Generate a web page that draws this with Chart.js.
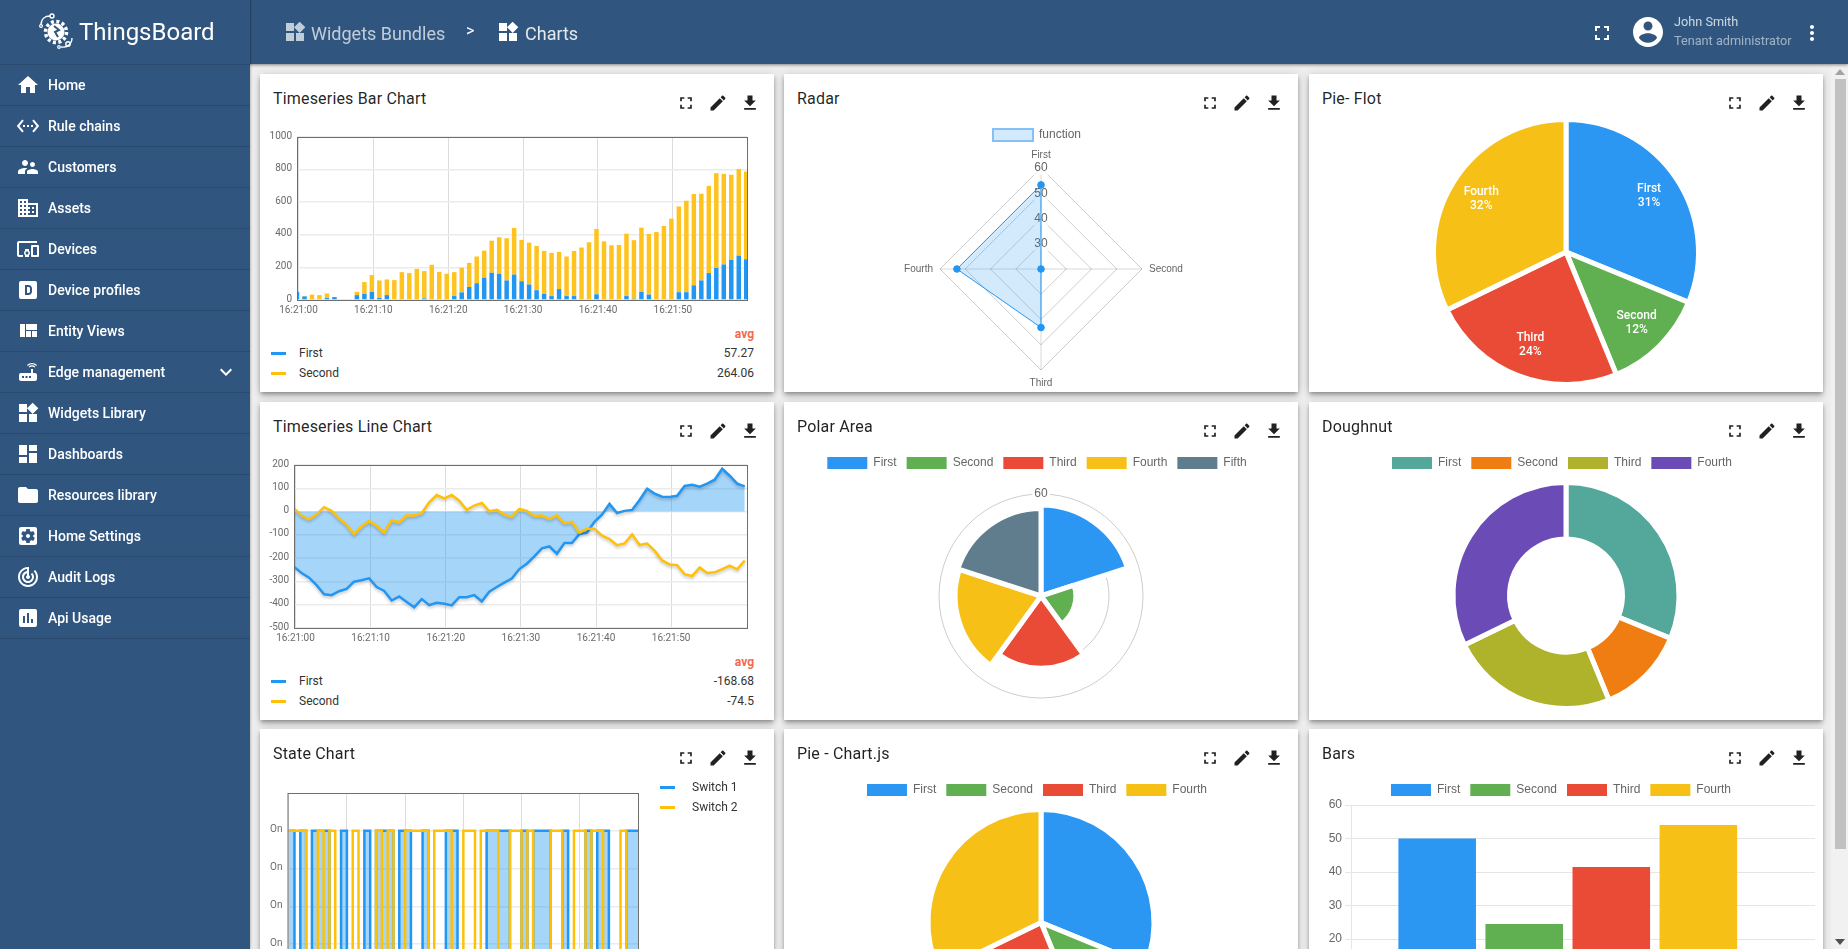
<!DOCTYPE html>
<html>
<head>
<meta charset="utf-8">
<title>Charts</title>
<script src="https://cdn.jsdelivr.net/npm/chart.js@4"></script>
<style>
html, body { margin: 0; padding: 0; width: 1848px; height: 949px; overflow: hidden; background: #eeeeee; font-family: Roboto, sans-serif; }
#page { position: relative; width: 1848px; height: 949px; overflow: hidden; }
.abs { position: absolute; white-space: nowrap; }
#topbar { position: absolute; left: 0; top: 0; width: 1848px; height: 64px; background: #305680; box-shadow: 0 1px 3px rgba(0,0,0,.45); z-index: 5; }
#sidebar { position: absolute; left: 0; top: 0; width: 250px; height: 949px; background: #305680; z-index: 6; box-shadow: 1px 0 2px rgba(0,0,0,.2); }
.row { position: absolute; left: 0; width: 250px; height: 41px; border-bottom: 1px solid rgba(0,0,0,.14); box-sizing: border-box; color: #fff; font-size: 14px; font-weight: 500; line-height: 40px; }
.row span { position: absolute; left: 48px; }
.row svg { position: absolute; left: 16px; top: 8px; }
.card { position: absolute; width: 514px; height: 318px; background: #fff; box-shadow: 0 2px 4px -1px rgba(0,0,0,.3), 0 4px 5px 0 rgba(0,0,0,.16), 0 1px 10px 0 rgba(0,0,0,.12); }
.title { position: absolute; font-size: 16px; line-height: 20px; letter-spacing: .18px; color: rgba(0,0,0,.87); white-space: nowrap; }
canvas { position: absolute; }
.lg { position: absolute; font-size: 12px; line-height: 16px; color: #333; white-space: nowrap; }
.sw { position: absolute; width: 15px; height: 3px; }
#track { position: absolute; left: 1831px; top: 64px; width: 17px; height: 885px; background: #f1f1f1; z-index: 3; }
#thumb { position: absolute; left: 1835px; top: 79px; width: 11px; height: 770px; background: #c1c1c1; z-index: 4; }
</style>
</head>
<body>
<div id="page"></div>
<script>
// timeseries bar chart
const barFirst = [50, 22, 0, 0, 12, 18, 0, 0, 30, 38, 50, 13, 30, 0, 0, 0, 0, 10, 0, 0, 0, 24, 47, 80, 103, 137, 167, 161, 120, 156, 115, 95, 60, 38, 24, 67, 24, 24, 0, 0, 35, 0, 0, 0, 24, 8, 50, 33, 0, 0, 0, 48, 48, 90, 120, 165, 197, 218, 247, 272, 250];
const barSecond = [0, 3, 33, 30, 28, 0, 0, 0, 20, 72, 103, 107, 96, 122, 171, 165, 191, 167, 216, 173, 161, 147, 151, 148, 164, 166, 197, 224, 259, 286, 254, 257, 272, 263, 265, 228, 243, 277, 322, 354, 401, 360, 336, 338, 383, 359, 394, 372, 417, 454, 499, 526, 561, 560, 532, 535, 581, 556, 521, 532, 538];

// timeseries line chart
const lineFirst = [-238, -264, -284, -316, -355, -359, -342, -332, -301, -295, -287, -324, -341, -382, -365, -388, -411, -376, -402, -392, -396, -403, -368, -368, -359, -386, -344, -324, -305, -288, -247, -224, -192, -158, -150, -181, -135, -135, -96, -90, -44, -13, 33, -6, 3, 7, 50, 98, 77, 64, 63, 68, 110, 115, 107, 120, 137, 184, 154, 120, 108];
const lineSecond = [14, -17, -33, -13, 19, 3, -30, -56, -98, -64, -41, -61, -90, -38, -46, -17, -17, -7, 40, 71, 57, 71, 47, 7, 26, 37, 1, 7, -13, -23, 11, 3, -19, -17, -31, -16, -50, -44, -90, -74, -74, -103, -118, -144, -137, -98, -143, -137, -168, -210, -227, -230, -269, -277, -240, -264, -261, -247, -232, -248, -210];

// state chart, one value per second
const switchOne = [1, 0, 1, 0, 1, 1, 1, 0, 0, 1, 0, 0, 0, 1, 0, 1, 1, 1, 0, 1, 1, 0, 0, 1, 0, 0, 0, 1, 1, 0, 0, 0, 0, 0, 1, 1, 1, 1, 0, 0, 1, 0, 1, 1, 1, 0, 0, 1, 0, 0, 0, 1, 0, 1, 1, 0, 0, 0, 1, 1, 1];
const switchTwo = [1, 1, 1, 0, 0, 1, 0, 1, 0, 0, 0, 1, 0, 0, 0, 1, 0, 1, 0, 0, 1, 1, 1, 1, 0, 1, 1, 1, 0, 0, 1, 1, 0, 1, 1, 1, 0, 0, 1, 1, 0, 1, 0, 0, 0, 1, 1, 0, 0, 1, 1, 0, 1, 1, 0, 0, 0, 1, 0, 0, 0];

const timeLabels = ['16:21:00', '16:21:10', '16:21:20', '16:21:30', '16:21:40', '16:21:50'];

const fourLabels = ['First', 'Second', 'Third', 'Fourth'];
const fiveLabels = ['First', 'Second', 'Third', 'Fourth', 'Fifth'];
const radarValues = [53.3, 20, 43.2, 53.3];
const flotValues = [31.2, 12.6, 24, 32.2];
const flotPercents = ['31%', '12%', '24%', '32%'];
const polarValues = [53.5, 20.5, 42.5, 50.5, 51.5];
const doughnutValues = [31.2, 12.6, 24, 32.2];
const pieValues = [31.2, 12.6, 24, 32.2];
const barsValues = [50, 24.5, 41.5, 54];
const barsPositions = [1, 2, 3, 4];

const BLUE = '#2b97f3', GREEN = '#60b052', RED = '#ea4b36', AMBER = '#f6c016', SLATE = '#5f7d8c';
const pieColors = [BLUE, GREEN, RED, AMBER];
const polarColors = [BLUE, GREEN, RED, AMBER, SLATE];
const doughnutColors = ['#53a79b', '#ef7d12', '#afb22b', '#6b4bb5'];

const ICONS = {
  fullscreen: 'M7 14H5v5h5v-2H7v-3zm-2-4h2V7h3V5H5v5zm12 7h-3v2h5v-5h-2v3zM14 5v2h3v3h2V5h-5z',
  edit: 'M3 17.25V21h3.75L17.81 9.94l-3.75-3.75L3 17.25zM20.71 7.04c.39-.39.39-1.02 0-1.41l-2.34-2.34c-.39-.39-1.02-.39-1.41 0l-1.83 1.83 3.75 3.75 1.83-1.83z',
  download: 'M19 9h-4V3H9v6H5l7 7 7-7zM5 18v2h14v-2H5z',
  home: 'M10 20v-6h4v6h5v-8h3L12 3 2 12h3v8z',
  rule: 'M7.77 6.76L6.23 5.48.82 12l5.41 6.52 1.54-1.28L3.42 12l4.35-5.24zM7 13h2v-2H7v2zm10-2h-2v2h2v-2zm-6 2h2v-2h-2v2zm6.77-7.52l-1.54 1.28L20.58 12l-4.35 5.24 1.54 1.28L23.18 12l-5.41-6.52z',
  people: 'M16.5 12c1.38 0 2.49-1.12 2.49-2.5S17.88 7 16.5 7C15.12 7 14 8.12 14 9.5s1.12 2.5 2.5 2.5zM9 11c1.66 0 2.99-1.34 2.99-3S10.66 5 9 5C7.34 5 6 6.34 6 8s1.34 3 3 3zm7.5 3c-1.83 0-5.5.92-5.5 2.75V19h11v-2.25c0-1.83-3.67-2.75-5.5-2.75zM9 13c-2.33 0-7 1.17-7 3.5V19h7v-2.25c0-.85.33-2.34 2.37-3.47C10.5 13.1 9.66 13 9 13z',
  domain: 'M12 7V3H2v18h20V7H12zM6 19H4v-2h2v2zm0-4H4v-2h2v2zm0-4H4V9h2v2zm0-4H4V5h2v2zm4 12H8v-2h2v2zm0-4H8v-2h2v2zm0-4H8V9h2v2zm0-4H8V5h2v2zm10 12h-8v-2h2v-2h-2v-2h2v-2h-2V9h8v10zm-2-8h-2v2h2v-2zm0 4h-2v2h2v-2z',
  devices: 'M3 6h18V4H3c-1.1 0-2 .9-2 2v12c0 1.1.9 2 2 2h4v-2H3V6zm10 6H9v1.78c-.61.55-1 1.33-1 2.22s.39 1.67 1 2.22V20h4v-1.78c.61-.55 1-1.34 1-2.22s-.39-1.67-1-2.22V12zm-2 5.5c-.83 0-1.5-.67-1.5-1.5s.67-1.5 1.5-1.5 1.5.67 1.5 1.5-.67 1.5-1.5 1.5zM22 8h-6c-.5 0-1 .5-1 1v10c0 .5.5 1 1 1h6c.5 0 1-.5 1-1V9c0-.5-.5-1-1-1zm-1 10h-4v-8h4v8z',
  profile: 'M19 3H5c-1.1 0-2 .9-2 2v14c0 1.1.9 2 2 2h14c1.1 0 2-.9 2-2V5c0-1.1-.9-2-2-2zM9 7h3.5c2 0 3.5 1.6 3.5 3.5v3c0 1.9-1.5 3.5-3.5 3.5H9V7zm2 2v6h1.5c.8 0 1.5-.7 1.5-1.5v-3c0-.8-.7-1.5-1.5-1.5H11z',
  quilt: 'M10 18h5v-6h-5v6zm-6 0h5V5H4v13zm12 0h5v-6h-5v6zM10 5v6h11V5H10z',
  router: 'M20.2 5.9l.8-.8C19.6 3.7 17.8 3 16 3s-3.6.7-5 2.1l.8.8C13 4.8 14.5 4.2 16 4.2s3 .6 4.2 1.7zm-.9.8c-.9-.9-2.1-1.4-3.3-1.4s-2.4.5-3.3 1.4l.8.8c.7-.7 1.6-1 2.5-1 .9 0 1.8.3 2.5 1l.8-.8zM19 13h-2V9h-2v4H5c-1.1 0-2 .9-2 2v4c0 1.1.9 2 2 2h14c1.1 0 2-.9 2-2v-4c0-1.1-.9-2-2-2zM8 18H6v-2h2v2zm3.5 0h-2v-2h2v2zm3.5 0h-2v-2h2v2z',
  widgets: 'M13 13v8h8v-8h-8zM3 21h8v-8H3v8zM3 3v8h8V3H3zm13.66-1.31L11 7.34 16.66 13l5.66-5.66-5.66-5.65z',
  dashboard: 'M3 13h8V3H3v10zm0 8h8v-6H3v6zm10 0h8V11h-8v10zm0-18v6h8V3h-8z',
  folder: 'M10 4H4c-1.1 0-1.99.9-1.99 2L2 18c0 1.1.9 2 2 2h16c1.1 0 2-.9 2-2V8c0-1.1-.9-2-2-2h-8l-2-2z',
  settings: 'M12 10c-1.1 0-2 .9-2 2s.9 2 2 2 2-.9 2-2-.9-2-2-2zm7-7H5c-1.11 0-2 .9-2 2v14c0 1.1.89 2 2 2h14c1.11 0 2-.9 2-2V5c0-1.1-.89-2-2-2zm-1.75 9c0 .23-.02.46-.05.68l1.48 1.16c.13.11.17.3.08.45l-1.4 2.42c-.09.15-.27.21-.43.15l-1.74-.7c-.36.28-.76.51-1.18.69l-.26 1.85c-.03.17-.18.3-.35.3h-2.8c-.17 0-.32-.13-.35-.29l-.26-1.85c-.43-.18-.82-.41-1.18-.69l-1.74.7c-.16.06-.34 0-.43-.15l-1.4-2.42c-.09-.15-.05-.34.08-.45l1.48-1.16c-.03-.23-.05-.46-.05-.69 0-.23.02-.46.05-.68l-1.48-1.16c-.13-.11-.17-.3-.08-.45l1.4-2.42c.09-.15.27-.21.43-.15l1.74.7c.36-.28.76-.51 1.18-.69l.26-1.85c.03-.17.18-.3.35-.3h2.8c.17 0 .32.13.35.29l.26 1.85c.43.18.82.41 1.18.69l1.74-.7c.16-.06.34 0 .43.15l1.4 2.42c.09.15.05.34-.08.45l-1.48 1.16c.03.23.05.46.05.69z',
  audit: 'M19.07 4.93l-1.41 1.41C19.1 7.79 20 9.79 20 12c0 4.42-3.58 8-8 8s-8-3.58-8-8c0-4.08 3.05-7.44 7-7.93v2.02C8.16 6.57 6 9.03 6 12c0 3.31 2.69 6 6 6s6-2.69 6-6c0-1.66-.67-3.16-1.76-4.24l-1.41 1.41C15.55 9.9 16 10.9 16 12c0 2.21-1.79 4-4 4s-4-1.79-4-4c0-1.86 1.28-3.41 3-3.86v2.14c-.6.35-1 .98-1 1.72 0 1.1.9 2 2 2s2-.9 2-2c0-.74-.4-1.38-1-1.72V2h-1C6.48 2 2 6.48 2 12s4.48 10 10 10 10-4.48 10-10c0-2.76-1.12-5.26-2.93-7.07z',
  chart: 'M19 3H5c-1.1 0-2 .9-2 2v14c0 1.1.9 2 2 2h14c1.1 0 2-.9 2-2V5c0-1.1-.9-2-2-2zM9 17H7v-7h2v7zm4 0h-2V7h2v10zm4 0h-2v-4h2v4z',
  account: 'M12 2C6.48 2 2 6.48 2 12s4.48 10 10 10 10-4.48 10-10S17.52 2 12 2zm0 3c1.66 0 3 1.34 3 3s-1.34 3-3 3-3-1.34-3-3 1.34-3 3-3zm0 14.2c-2.5 0-4.71-1.28-6-3.22.03-1.99 4-3.08 6-3.08 1.99 0 5.97 1.09 6 3.08-1.29 1.94-3.5 3.22-6 3.22z',
  more: 'M12 8c1.1 0 2-.9 2-2s-.9-2-2-2-2 .9-2 2 .9 2 2 2zm0 2c-1.1 0-2 .9-2 2s.9 2 2 2 2-.9 2-2-.9-2-2-2zm0 6c-1.1 0-2 .9-2 2s.9 2 2 2 2-.9 2-2-.9-2-2-2z',
  expand: 'M16.59 8.59L12 13.17 7.41 8.59 6 10l6 6 6-6z'
};

const menuItems = [
  ['Home', 'home'], ['Rule chains', 'rule'], ['Customers', 'people'], ['Assets', 'domain'],
  ['Devices', 'devices'], ['Device profiles', 'profile'], ['Entity Views', 'quilt'], ['Edge management', 'router'],
  ['Widgets Library', 'widgets'], ['Dashboards', 'dashboard'], ['Resources library', 'folder'],
  ['Home Settings', 'settings'], ['Audit Logs', 'audit'], ['Api Usage', 'chart']
];

const page = document.getElementById('page');

function icon(name, size, color, style) {
  return `<svg width="${size}" height="${size}" viewBox="0 0 24 24" style="${style || ''}"><path fill="${color}" d="${ICONS[name]}"/></svg>`;
}

function addHtml(html) {
  page.insertAdjacentHTML('beforeend', html);
}

function buildChrome() {
  let side = '<div id="sidebar">';
  side += `<svg class="abs" style="left:36px;top:12px" width="40" height="40" viewBox="0 0 40 40" fill="none" stroke="#fff">
    <circle cx="20" cy="20" r="8.5" fill="#fff" stroke="none"/>
    <circle cx="20" cy="20" r="10.5" stroke-width="3.5" stroke-dasharray="3 2.5"/>
    <path d="M18 14l5 4-4 2 3 5" stroke="#305680" stroke-width="2"/>
    <path d="M5 13c0-6 4-9 9-9" stroke-width="1.4"/><circle cx="16" cy="4" r="2" stroke-width="1.4"/><circle cx="5" cy="14" r="1.4" stroke-width="1.2"/>
    <path d="M36 26c0 6-5 10-11 9" stroke-width="1.4"/><circle cx="32" cy="32" r="2.2" stroke-width="1.4"/><circle cx="23" cy="35" r="1.3" stroke-width="1.2"/>
  </svg>`;
  side += '<div class="abs" style="left:79px;top:14px;font-size:24px;line-height:36px;color:#fff">ThingsBoard</div>';
  side += '<div class="abs" style="left:0;top:64px;width:250px;height:1px;background:rgba(0,0,0,.14)"></div>';
  menuItems.forEach((item, i) => {
    side += `<div class="row" style="top:${65 + i * 41}px">${icon(item[1], 24, '#fff')}<span>${item[0]}</span>`;
    if (item[0] === 'Edge management') side += icon('expand', 24, '#fff', 'left:214px');
    side += '</div>';
  });
  side += '</div>';
  addHtml(side);

  let top = '<div id="topbar">';
  top += '<div class="abs" style="left:250px;top:0;width:1px;height:64px;background:rgba(0,0,0,.1)"></div>';
  top += icon('widgets', 24, 'rgba(255,255,255,.7)', 'position:absolute;left:283px;top:20px');
  top += '<div class="abs" style="left:311px;top:22px;font-size:18px;line-height:24px;color:rgba(255,255,255,.7)">Widgets Bundles</div>';
  top += '<div class="abs" style="left:466px;top:20px;font-size:16px;line-height:22px;color:#fff">&gt;</div>';
  top += icon('widgets', 24, '#fff', 'position:absolute;left:496px;top:20px');
  top += '<div class="abs" style="left:525px;top:22px;font-size:18px;line-height:24px;color:rgba(255,255,255,.87)">Charts</div>';
  top += icon('fullscreen', 24, '#fff', 'position:absolute;left:1590px;top:21px');
  top += icon('account', 36, '#fff', 'position:absolute;left:1630px;top:14px');
  top += '<div class="abs" style="left:1674px;top:14px;font-size:12.7px;line-height:16px;color:rgba(255,255,255,.76)">John Smith</div>';
  top += '<div class="abs" style="left:1674px;top:33px;font-size:12.7px;line-height:16px;color:rgba(255,255,255,.54)">Tenant administrator</div>';
  top += icon('more', 24, '#fff', 'position:absolute;left:1800px;top:21px');
  top += '</div>';
  addHtml(top);

  addHtml('<div id="track"></div><div id="thumb"></div>');
  addHtml('<svg class="abs" style="left:1835px;top:69px;z-index:4" width="10" height="6"><path d="M0 6L5 0L10 6z" fill="#a3a3a3"/></svg>');
  addHtml('<svg class="abs" style="left:1835px;top:939px;z-index:4" width="10" height="6"><path d="M0 0L5 6L10 0z" fill="#505050"/></svg>');
}

function addCard(left, top, title) {
  let html = `<div class="card" style="left:${left}px;top:${top}px"></div>`;
  html += `<div class="title" style="left:${left + 13}px;top:${top + 15}px">${title}</div>`;
  ['fullscreen', 'edit', 'download'].forEach((name, i) => {
    html += icon(name, 20, '#212121', `position:absolute;left:${left + 514 - 98 + i * 32}px;top:${top + 19}px`);
  });
  addHtml(html);
}

function addCanvas(left, top, width, height) {
  const c = document.createElement('canvas');
  c.width = width;
  c.height = height;
  c.style.left = left + 'px';
  c.style.top = top + 'px';
  c.style.width = width + 'px';
  c.style.height = height + 'px';
  page.appendChild(c);
  return c.getContext('2d');
}

function addFlotLegend(rows, textGap) {
  rows.forEach(r => {
    addHtml(`<div class="sw" style="left:${r.x}px;top:${r.y - 1}px;background:${r.color}"></div>`);
    addHtml(`<div class="lg" style="left:${r.x + textGap}px;top:${r.y - 8}px">${r.label}</div>`);
    if (r.value) addHtml(`<div class="lg" style="right:${1848 - 754}px;top:${r.y - 8}px">${r.value}</div>`);
  });
}

// legends sit 4px left of where this version centres them
Chart.register({
  id: 'legendShift',
  afterLayout(chart) {
    chart.legend.left -= 4;
    chart.legend.right -= 4;
  }
});

// changes the room taken under the legend without moving the legend itself
function legendRoom(delta) {
  return {
    id: 'legendRoom',
    beforeInit(chart) {
      const fit = chart.legend.fit;
      chart.legend.fit = function () { fit.call(this); this.height += delta; };
    }
  };
}

// flot draws a dark frame round the plot
const framePlugin = {
  id: 'frame',
  afterDatasetsDraw(chart) {
    const a = chart.chartArea, ctx = chart.ctx;
    ctx.save();
    ctx.strokeStyle = '#6e6e6e';
    ctx.lineWidth = 1;
    ctx.strokeRect(a.left + 0.5, a.top + 0.5, a.right - a.left, a.bottom - a.top);
    ctx.restore();
  }
};

// soft shadow under the flot lines
const shadowPlugin = {
  id: 'lineShadow',
  beforeDatasetDraw(chart) {
    const ctx = chart.ctx;
    ctx.save();
    ctx.shadowColor = 'rgba(0,0,0,.22)';
    ctx.shadowBlur = 3;
    ctx.shadowOffsetY = 2;
  },
  afterDatasetDraw(chart) {
    chart.ctx.restore();
  }
};

function flotOptions(yMin, yMax, yStep, xMin, xMax, yWidth) {
  return {
    responsive: false,
    animation: false,
    events: [],
    layout: { padding: { top: 10, right: 5, left: 0, bottom: 0 } },
    plugins: { legend: { display: false }, tooltip: { enabled: false } },
    scales: {
      x: {
        type: 'linear', min: xMin, max: xMax, offset: false,
        afterBuildTicks: s => { s.ticks = timeLabels.map((t, i) => ({ value: i * 10 + 0.2 })); },
        afterFit: s => { s.height = 20; },
        grid: { color: '#dcdcdc', lineWidth: 1, drawTicks: false, offset: false },
        border: { display: false },
        ticks: {
          autoSkip: false, maxRotation: 0, padding: 4, color: '#6b6b6b', font: { family: 'Roboto', size: 10 },
          callback: v => timeLabels[Math.round((v - 0.2) / 10)]
        }
      },
      y: {
        min: yMin, max: yMax,
        afterFit: s => { s.width = yWidth; },
        grid: { color: '#ebebeb', lineWidth: 1.5, drawTicks: false },
        border: { display: false },
        ticks: { stepSize: yStep, padding: 5, labelOffset: -1, color: '#6b6b6b', font: { family: 'Roboto', size: 10 }, callback: v => String(v) }
      }
    }
  };
}

function drawBarChart() {
  addCard(260, 74, 'Timeseries Bar Chart');
  const seconds = barFirst.map((v, i) => i);
  const options = flotOptions(0, 1000, 200, 0, 60.1, 35);
  options.scales.x.stacked = true;
  options.scales.y.stacked = true;
  new Chart(addCanvas(262, 126, 490, 194), {
    type: 'bar',
    data: {
      labels: seconds,
      datasets: [
        { label: 'First', data: barFirst, backgroundColor: '#2196f3', barPercentage: 0.6, categoryPercentage: 1 },
        { label: 'Second', data: barSecond, backgroundColor: '#ffc31f', barPercentage: 0.6, categoryPercentage: 1 }
      ]
    },
    options: options,
    plugins: [framePlugin]
  });
  addHtml(`<div class="lg" style="right:${1848 - 754}px;top:326px;font-weight:700;color:#f4694a">avg</div>`);
  addFlotLegend([
    { x: 271, y: 353, color: '#2196f3', label: 'First', value: '57.27' },
    { x: 271, y: 373, color: '#ffc107', label: 'Second', value: '264.06' }
  ], 28);
}

function drawLineChart() {
  addCard(260, 402, 'Timeseries Line Chart');
  const seconds = lineFirst.map((v, i) => i);
  new Chart(addCanvas(262, 454, 490, 194), {
    type: 'line',
    data: {
      labels: seconds,
      datasets: [
        { label: 'First', data: lineFirst, borderColor: '#2196f3', borderWidth: 2.5, pointRadius: 0, tension: 0, fill: 'origin', backgroundColor: 'rgba(33,150,243,.4)' },
        { label: 'Second', data: lineSecond, borderColor: '#ffc107', borderWidth: 2.5, pointRadius: 0, tension: 0, fill: false, order: -1 }
      ]
    },
    options: flotOptions(-500, 200, 100, 0, 60.3, 32),
    plugins: [framePlugin, shadowPlugin]
  });
  addHtml(`<div class="lg" style="right:${1848 - 754}px;top:654px;font-weight:700;color:#f4694a">avg</div>`);
  addFlotLegend([
    { x: 271, y: 681, color: '#2196f3', label: 'First', value: '-168.68' },
    { x: 271, y: 701, color: '#ffc107', label: 'Second', value: '-74.5' }
  ], 28);
}

function drawStateChart() {
  addCard(260, 729, 'State Chart');
  const seconds = switchOne.map((v, i) => i);
  const options = flotOptions(0, 1.25, 0.25, -0.2, 60, 25.5);
  options.scales.y.afterBuildTicks = s => { s.ticks = s.ticks.filter(t => t.value <= 1); };
  options.scales.y.ticks.callback = v => (v > 0 ? 'On' : 'Off');
  options.scales.x.afterBuildTicks = s => { s.ticks = timeLabels.map((t, i) => ({ value: i * 10 })); };
  options.scales.x.ticks.callback = v => timeLabels[Math.round(v / 10)];
  new Chart(addCanvas(262, 782, 381, 220), {
    type: 'line',
    data: {
      labels: seconds,
      datasets: [
        { label: 'Switch 1', data: switchOne, stepped: true, borderColor: '#2196f3', borderWidth: 2.5, pointRadius: 0, fill: 'origin', backgroundColor: 'rgba(33,150,243,.4)' },
        { label: 'Switch 2', data: switchTwo, stepped: true, borderColor: '#ffc107', borderWidth: 2.5, pointRadius: 0, fill: false, order: -1 }
      ]
    },
    options: options,
    plugins: [framePlugin]
  });
  addFlotLegend([
    { x: 660, y: 787, color: '#2196f3', label: 'Switch 1' },
    { x: 660, y: 807, color: '#ffc107', label: 'Switch 2' }
  ], 32);
}

function plainLegendLabels(chart) {
  const items = Chart.overrides.pie.plugins.legend.labels.generateLabels(chart);
  items.forEach(it => { it.lineWidth = 0; it.strokeStyle = 'transparent'; });
  return items;
}

function drawRadar() {
  addCard(784, 74, 'Radar');
  new Chart(addCanvas(796, 123, 490, 266), {
    type: 'radar',
    data: {
      labels: fourLabels,
      datasets: [{
        label: 'function', data: radarValues,
        backgroundColor: 'rgba(33,150,243,.2)', borderColor: '#2196f3', borderWidth: 1,
        pointBackgroundColor: '#2196f3', pointBorderColor: '#2196f3', pointRadius: 3.3
      }]
    },
    options: {
      responsive: false, animation: false, events: [],
      layout: { padding: { top: -4, bottom: -4 } },
      plugins: {
        tooltip: { enabled: false },
        legend: {
          labels: {
            color: '#666', font: { size: 12 }, boxWidth: 40,
            generateLabels: chart => {
              const items = Chart.defaults.plugins.legend.labels.generateLabels(chart);
              items.forEach(it => { it.strokeStyle = '#84c1f7'; it.lineWidth = 2; });
              return items;
            }
          }
        }
      },
      scales: {
        r: {
          min: 20, max: 60,
          angleLines: { color: 'rgba(0,0,0,.1)', lineWidth: 1.5 },
          grid: { color: 'rgba(0,0,0,.2)' },
          pointLabels: { color: '#666', font: { size: 10 }, padding: 0 },
          ticks: { stepSize: 10, color: '#666', font: { size: 12 }, backdropColor: 'rgba(255,255,255,.75)', backdropPadding: 1 }
        }
      }
    },
    plugins: [legendRoom(-2)]
  });
}

function drawPolar() {
  addCard(784, 402, 'Polar Area');
  new Chart(addCanvas(796, 447, 490, 266), {
    type: 'polarArea',
    data: {
      labels: fiveLabels,
      datasets: [{ data: polarValues, backgroundColor: polarColors, borderColor: '#fff', borderWidth: 5 }]
    },
    options: {
      responsive: false, animation: false, events: [],
      layout: { padding: { bottom: 7 } },
      plugins: {
        tooltip: { enabled: false },
        legend: { labels: { color: '#666', font: { size: 12 }, boxWidth: 40, generateLabels: plainLegendLabels } }
      },
      scales: {
        r: {
          min: 0, max: 60,
          grid: { color: 'rgba(0,0,0,.2)' },
          ticks: { stepSize: 20, color: '#666', font: { size: 12 }, backdropColor: '#fff', backdropPadding: 2 }
        }
      }
    },
    plugins: [legendRoom(7)]
  });
}

// percent labels inside the flot pie
const pieLabelPlugin = {
  id: 'pieLabels',
  afterDatasetsDraw(chart) {
    const ctx = chart.ctx;
    ctx.save();
    ctx.fillStyle = '#fff';
    ctx.font = '500 12px Roboto';
    ctx.textAlign = 'center';
    ctx.textBaseline = 'middle';
    chart.getDatasetMeta(0).data.forEach((arc, i) => {
      const mid = (arc.startAngle + arc.endAngle) / 2;
      const x = arc.x + Math.cos(mid) * 100;
      const y = arc.y + Math.sin(mid) * 100;
      ctx.fillText(fourLabels[i], x, y - 7);
      ctx.fillText(flotPercents[i], x, y + 7);
    });
    ctx.restore();
  }
};

function drawFlotPie() {
  addCard(1309, 74, 'Pie- Flot');
  new Chart(addCanvas(1321, 117, 490, 270), {
    type: 'pie',
    data: {
      labels: fourLabels,
      datasets: [{ data: flotValues, backgroundColor: pieColors, borderColor: '#fff', borderWidth: 5 }]
    },
    options: {
      responsive: false, animation: false, events: [],
      plugins: { legend: { display: false }, tooltip: { enabled: false } }
    },
    plugins: [pieLabelPlugin]
  });
}

function drawRound(type, left, top, values, colors, title) {
  addCard(left - 12, top - 45, title);
  new Chart(addCanvas(left, top, 490, 266), {
    type: type,
    data: {
      labels: fourLabels,
      datasets: [{ data: values, backgroundColor: colors, borderColor: '#fff', borderWidth: 5 }]
    },
    options: {
      responsive: false, animation: false, events: [],
      layout: { padding: { bottom: 2 } },
      plugins: {
        tooltip: { enabled: false },
        legend: { labels: { color: '#666', font: { size: 12 }, boxWidth: 40, generateLabels: plainLegendLabels } }
      }
    },
    plugins: [legendRoom(1)]
  });
}

function drawBars() {
  addCard(1309, 729, 'Bars');
  new Chart(addCanvas(1315, 774, 502, 266), {
    type: 'bar',
    data: {
      datasets: [{
        data: barsValues.map((v, i) => ({ x: barsPositions[i], y: v })),
        backgroundColor: pieColors, barPercentage: 0.9, categoryPercentage: 1
      }]
    },
    options: {
      responsive: false, animation: false, events: [],
      layout: { padding: { right: 2, bottom: 26 } },
      plugins: {
        tooltip: { enabled: false },
        legend: {
          labels: {
            color: '#666', font: { size: 12 }, boxWidth: 40,
            generateLabels: () => fourLabels.map((t, i) => ({ text: t, fillStyle: pieColors[i], strokeStyle: 'transparent', lineWidth: 0, fontColor: '#666', index: i }))
          }
        }
      },
      scales: {
        x: {
          type: 'linear', min: 0.01, max: 5.34, offset: false,
          grid: { display: false, offset: false }, border: { display: true, color: 'rgba(0,0,0,.1)' },
          ticks: { display: false }
        },
        y: {
          min: 0, max: 60,
          afterFit: s => { s.width = 36; },
          grid: { color: 'rgba(0,0,0,.1)', tickLength: 6 },
          border: { display: true, color: 'rgba(0,0,0,.1)' },
          ticks: { stepSize: 10, padding: 3, color: '#666', font: { size: 12 } }
        }
      }
    },
    plugins: [legendRoom(-1)]
  });
}

Chart.defaults.font.family = '"Liberation Sans"';
buildChrome();
drawBarChart();
drawRadar();
drawFlotPie();
drawLineChart();
drawPolar();
drawRound('doughnut', 1321, 447, doughnutValues, doughnutColors, 'Doughnut');
drawStateChart();
drawRound('pie', 796, 774, pieValues, pieColors, 'Pie - Chart.js');
drawBars();
</script>
</body>
</html>
